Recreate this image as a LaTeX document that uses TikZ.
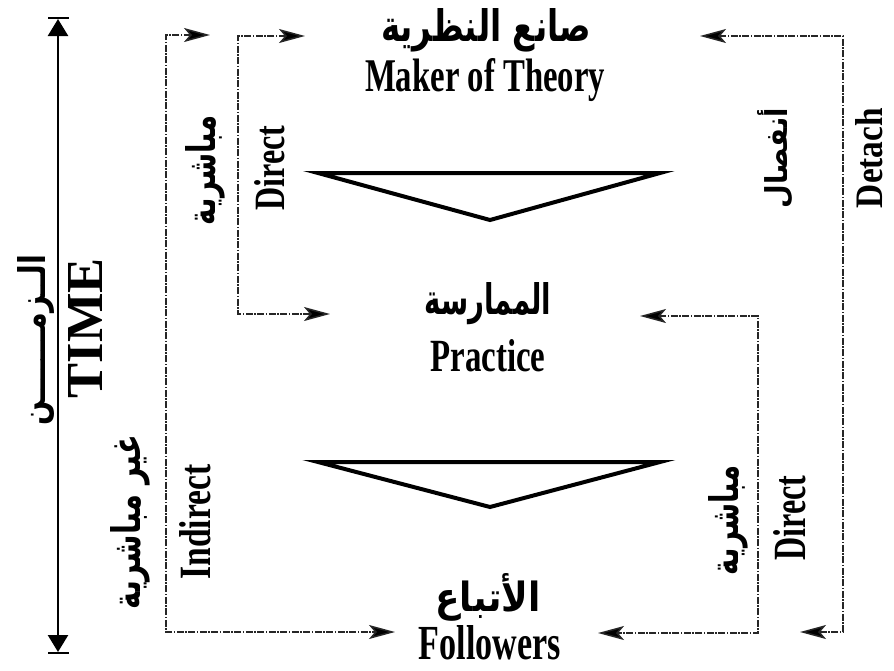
\documentclass[tikz,border=0pt]{standalone}
\usepackage{fontspec}
\usepackage{graphicx}
\setmainfont{Liberation Serif}
\newfontfamily\arabicfont[Script=Arabic]{DejaVu Sans}
\TeXXeTstate=1
\usetikzlibrary{arrows.meta}
\newcommand{\fitto}[3]{\resizebox{#1}{#2}{#3}}
\newcommand{\ar}[1]{{\arabicfont\bfseries\beginR #1\endR}}
\newcommand{\en}[1]{{\bfseries #1}}
\begin{document}
\begin{tikzpicture}[x=1pt,y=-1pt,
  lbl/.style={inner sep=0pt, outer sep=0pt, anchor=center},
  vlbl/.style={lbl, rotate=90},
  flow/.style={line width=1.5pt, draw=black!85,
    dash pattern=on 7pt off 1.5pt on 1.5pt off 1.5pt,
    {Stealth[length=26pt,width=14pt,inset=6pt,fill=black]}-{Stealth[length=26pt,width=14pt,inset=6pt,fill=black]}},
  tri/.style={line width=4pt, line join=miter},
  timeline/.style={line width=2.5pt,
    {Triangle[length=17pt,width=20pt]}-{Triangle[length=17pt,width=20pt]}},
  bar/.style={line width=2.5pt}]
\useasboundingbox (0,0) rectangle (894,670);

% time axis
\coordinate (ttop) at (58,19);
\coordinate (tbot) at (58,652);
\coordinate (tb1) at (48,18);
\coordinate (tb2) at (69,18);
\coordinate (tb3) at (48,653);
\coordinate (tb4) at (69,653);
\draw[timeline] (ttop) -- (tbot);
\draw[bar] (tb1) -- (tb2);
\draw[bar] (tb3) -- (tb4);
\node[vlbl] (time) at (85,328) {\fitto{140pt}{34pt}{\en{TIME}}};
\node[vlbl] (zaman) at (36,340) {\fitto{170pt}{28pt}{\ar{الــزمـــــــن}}};

% main labels
\node[lbl] (makerar) at (486,30) {\fitto{210pt}{33pt}{\ar{صانع النظرية}}};
\node[lbl] (maker) at (485,80) {\fitto{240pt}{33pt}{\en{Maker of Theory}}};
\node[lbl] (practicear) at (488,304) {\fitto{127pt}{32pt}{\ar{الممارسة}}};
\node[lbl] (practice) at (488,356) {\fitto{115pt}{32pt}{\en{Practice}}};
\node[lbl] (followersar) at (488,597) {\fitto{105pt}{38pt}{\ar{الأتباع}}};
\node[lbl] (followers) at (490,643) {\fitto{142pt}{34pt}{\en{Followers}}};

% triangles
\coordinate (t1a) at (318,173);
\coordinate (t1b) at (660,173);
\coordinate (t1c) at (490,220);
\draw[tri] (t1a) -- (t1b) -- (t1c) -- cycle;
\coordinate (t2a) at (318,462);
\coordinate (t2b) at (660,462);
\coordinate (t2c) at (490,507);
\draw[tri] (t2a) -- (t2b) -- (t2c) -- cycle;

% connectors
\coordinate (lo1) at (210,35);
\coordinate (lo2) at (166,35);
\coordinate (lo3) at (166,632);
\coordinate (lo4) at (395,632);
\draw[flow] (lo1) -- (lo2) -- (lo3) -- (lo4);
\coordinate (li1) at (305,36);
\coordinate (li2) at (238,36);
\coordinate (li3) at (238,314);
\coordinate (li4) at (330,314);
\draw[flow] (li1) -- (li2) -- (li3) -- (li4);
\coordinate (ro1) at (700,36);
\coordinate (ro2) at (843,36);
\coordinate (ro3) at (843,632);
\coordinate (ro4) at (800,632);
\draw[flow] (ro1) -- (ro2) -- (ro3) -- (ro4);
\coordinate (ri1) at (640,316);
\coordinate (ri2) at (758,316);
\coordinate (ri3) at (758,633);
\coordinate (ri4) at (598,633);
\draw[flow] (ri1) -- (ri2) -- (ri3) -- (ri4);

% side labels
\node[vlbl] (dirar1) at (205,170) {\fitto{110pt}{30pt}{\ar{مباشرية}}};
\node[vlbl] (dir1) at (270,168) {\fitto{85pt}{30pt}{\en{Direct}}};
\node[vlbl] (detar) at (775,158) {\fitto{100pt}{30pt}{\ar{أنفصال}}};
\node[vlbl] (det) at (869,158) {\fitto{100pt}{27pt}{\en{Detach}}};
\node[vlbl] (indar) at (130,522) {\fitto{175pt}{30pt}{\ar{غير مباشرية}}};
\node[vlbl] (ind) at (195,522) {\fitto{115pt}{31pt}{\en{Indirect}}};
\node[vlbl] (dirar2) at (728,520) {\fitto{110pt}{30pt}{\ar{مباشرية}}};
\node[vlbl] (dir2) at (790,518) {\fitto{85pt}{32pt}{\en{Direct}}};
\end{tikzpicture}
\end{document}
